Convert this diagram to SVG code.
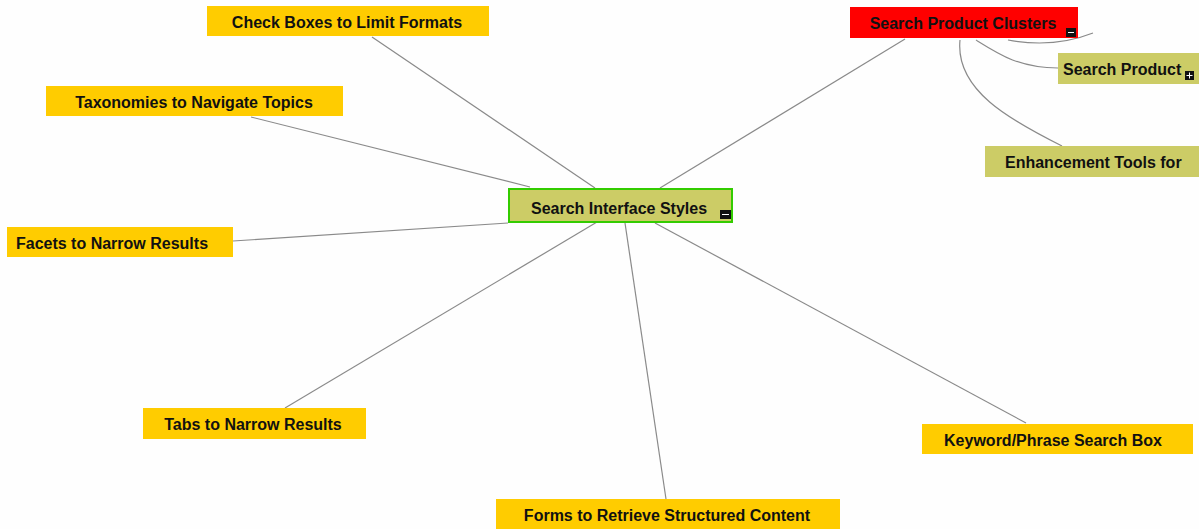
<svg xmlns="http://www.w3.org/2000/svg" width="1199" height="529" viewBox="0 0 1199 529">
<style>
.y{fill:#ffcc00}
.o{fill:#cccc66}
.t{font-family:"Liberation Sans",Arial,sans-serif;font-weight:bold;font-size:16px;fill:#111;text-anchor:middle}
.s{text-anchor:start}
.c{fill:none;stroke:#8a8a8a;stroke-width:1.2}
.ic{fill:#111}
.icl{stroke:#fff;stroke-width:1}
</style>
<rect width="1199" height="529" fill="#fefefe"/>
<g id="connectors">
<line class="c" x1="595" y1="188" x2="372" y2="37"/>
<line class="c" x1="530" y1="187" x2="251" y2="117"/>
<line class="c" x1="508" y1="223" x2="233" y2="241"/>
<line class="c" x1="597" y1="222" x2="285" y2="408"/>
<line class="c" x1="625" y1="223" x2="666" y2="499"/>
<line class="c" x1="655" y1="223" x2="1026" y2="423"/>
<line class="c" x1="660" y1="188" x2="905" y2="39"/>
<path class="c" d="M960 40 C955 90 1010 120 1062 146"/>
<path class="c" d="M976 40 C1000 55 1020 68 1058 68"/>
<path class="c" d="M1008 40 C1040 46 1070 42 1093 33"/>
</g>
<g id="n-check"><rect class="y" x="207" y="6" width="282" height="30"/><text class="t" x="347" y="28">Check Boxes to Limit Formats</text></g>
<g id="n-tax"><rect class="y" x="46" y="86" width="297" height="30"/><text class="t" x="194" y="108">Taxonomies to Navigate Topics</text></g>
<g id="n-facets"><rect class="y" x="7" y="227" width="226" height="30"/><text class="t" x="112" y="249">Facets to Narrow Results</text></g>
<g id="n-tabs"><rect class="y" x="143" y="408" width="223" height="31"/><text class="t" x="253" y="430">Tabs to Narrow Results</text></g>
<g id="n-forms"><rect class="y" x="496" y="499" width="344" height="30"/><text class="t" x="667" y="521">Forms to Retrieve Structured Content</text></g>
<g id="n-keyword"><rect class="y" x="922" y="424" width="271" height="30"/><text class="t" x="1053" y="446">Keyword/Phrase Search Box</text></g>
<g id="n-center"><rect class="o" x="509" y="189" width="223" height="33" stroke="#33cc00" stroke-width="2"/><text class="t" x="619" y="214">Search Interface Styles</text><rect class="ic" x="720" y="210" width="11" height="9"/><line class="icl" x1="722" y1="214.5" x2="729" y2="214.5"/></g>
<g id="n-clusters"><rect x="850" y="7" width="228" height="31" fill="#ff0000"/><text class="t" x="963" y="29">Search Product Clusters</text><rect class="ic" x="1066" y="28" width="10" height="9"/><line class="icl" x1="1068" y1="32.5" x2="1074" y2="32.5"/></g>
<g id="n-sp"><rect class="o" x="1058" y="53" width="141" height="31"/><text class="t s" x="1063" y="75">Search Product</text><rect class="ic" x="1185" y="71" width="9" height="9"/><line class="icl" x1="1186.5" y1="75.5" x2="1192.5" y2="75.5"/><line class="icl" x1="1189.5" y1="72.5" x2="1189.5" y2="78.5"/></g>
<g id="n-enh"><rect class="o" x="985" y="146" width="214" height="31"/><text class="t s" x="1005" y="168">Enhancement Tools for</text></g>
</svg>
